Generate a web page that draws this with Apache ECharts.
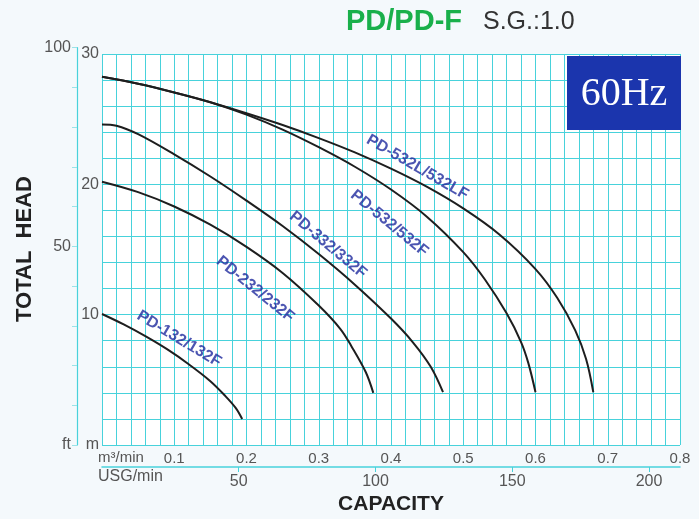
<!DOCTYPE html>
<html>
<head>
<meta charset="utf-8">
<script src="https://cdn.jsdelivr.net/npm/echarts@6/dist/echarts.min.js"></script>
<style>
html,body{margin:0;padding:0;background:#f4f9fc;}
#c{width:699px;height:519px;}
</style>
</head>
<body>
<div id="c"></div>
<script>
// ---- data (capacity m3/min, total head m) ----
const pd132 = [[0,10.05],[0.03,9.25],[0.06,8.35],[0.09,7.35],[0.12,6.2],[0.15,4.9],[0.17,3.8],[0.185,2.85],[0.194,2.0]];
const pd232 = [[0,20.2],[0.05,19.4],[0.1,18.3],[0.15,16.9],[0.2,15.2],[0.25,13.2],[0.3,10.7],[0.33,8.9],[0.345,7.6],[0.365,5.6],[0.3755,4.0]];
const pd332 = [[0,24.6],[0.02,24.5],[0.05,23.85],[0.1,22.3],[0.15,20.6],[0.2,18.75],[0.25,16.8],[0.3,14.65],[0.35,12.3],[0.4,9.7],[0.43,7.9],[0.455,6.0],[0.472,4.05]];
const pd532 = [[0,28.25],[0.05,27.72],[0.1,27.05],[0.15,26.3],[0.2,25.35],[0.25,24.2],[0.3,22.85],[0.35,21.35],[0.4,19.6],[0.45,17.5],[0.5,14.8],[0.53,12.7],[0.56,10.1],[0.58,7.9],[0.59,6.3],[0.6,4.05]];
const pd532L = [[0,28.25],[0.05,27.72],[0.1,27.05],[0.15,26.3],[0.2,25.45],[0.25,24.55],[0.3,23.55],[0.35,22.45],[0.4,21.2],[0.45,19.8],[0.5,18.15],[0.55,16.15],[0.6,13.5],[0.63,11.3],[0.655,8.8],[0.67,6.6],[0.68,4.05]];
const curveNames = ['PD-132/132F','PD-232/232F','PD-332/332F','PD-532/532F','PD-532L/532LF'];
const labelPos = [[0.1066,8.13],[0.212,11.95],[0.313,15.35],[0.3977,17.01],[0.4365,21.3]];
const labelRot = [-31,-39,-40,-39.5,-30];
const m3Ticks = [0.1,0.2,0.3,0.4,0.5,0.6,0.7,0.8];
const usgTicks = [50,100,150,200];
const mTicks = [0,10,20,30];
const ftTicks = [0,50,100];

const GRIDC = '#48d2db';
const chart = echarts.init(document.getElementById('c'), null, {renderer:'canvas'});
const curves = [pd132, pd232, pd332, pd532, pd532L];
const series = curves.map((d,i)=>({
  type:'line', xAxisIndex:0, yAxisIndex:0, data:d, smooth:0.35, showSymbol:false,
  lineStyle:{color:'#1e1e1e', width:2}, silent:true, z:3
}));
series.push({
  type:'scatter', xAxisIndex:0, yAxisIndex:0, symbolSize:1, itemStyle:{color:'transparent'}, z:4,
  data: curveNames.map((n,i)=>({value:labelPos[i], name:n,
    label:{show:true, position:'inside', formatter:n, rotate:labelRot[i],
      color:'#1f2a9e', fontWeight:'bold', fontSize:16, fontFamily:'Liberation Sans'}}))
});

chart.setOption({
  backgroundColor:'#f4f9fc',
  animation:false,
  textStyle:{fontFamily:'Liberation Sans'},
  grid:[
    {left:102, right:19, top:54, bottom:74, show:true, backgroundColor:'#ffffff', borderWidth:0},
    {left:77, width:1, top:47.7, bottom:74, show:false}
  ],
  xAxis:[
    {gridIndex:0, type:'value', min:0, max:0.8, interval:0.02,
     axisLine:{show:false}, axisTick:{show:false},
     splitLine:{show:true, lineStyle:{color:GRIDC, width:1}},
     axisLabel:{customValues:m3Ticks, formatter:v=>v.toFixed(1), color:'#555', fontSize:15, margin:6}},
    {gridIndex:0, type:'value', min:0, max:0.8*264.172, position:'bottom', offset:22,
     axisLine:{show:true, lineStyle:{color:GRIDC, width:1.5}},
     axisTick:{show:true, customValues:usgTicks, length:5, lineStyle:{color:GRIDC}},
     splitLine:{show:false},
     axisLabel:{customValues:usgTicks, color:'#555', fontSize:16, margin:7}},
    {gridIndex:1, type:'value', show:false, min:0, max:1}
  ],
  yAxis:[
    {gridIndex:0, type:'value', min:0, max:30, interval:2,
     axisLine:{show:false}, axisTick:{show:false},
     splitLine:{show:true, lineStyle:{color:GRIDC, width:1}},
     axisLabel:{customValues:mTicks, formatter:v=>v===0?'m':String(v), color:'#555', fontSize:16, margin:3}},
    {gridIndex:1, type:'value', min:0, max:100, interval:10,
     axisLine:{show:true, lineStyle:{color:GRIDC, width:1.2}},
     axisTick:{show:true, length:5, lineStyle:{color:'#9be3e8'}},
     splitLine:{show:false},
     axisLabel:{customValues:ftTicks, formatter:v=>v===0?'ft':String(v), color:'#555', fontSize:16, margin:6}}
  ],
  series:series,
  graphic:[
    {type:'text', left:346, top:7, style:{text:'PD/PD-F', font:'bold 29px "Liberation Sans"', fill:'#19b04b'}},
    {type:'text', left:483, top:10, style:{text:'S.G.:1.0', font:'25px "Liberation Sans"', fill:'#333'}},
    {type:'rect', shape:{x:567, y:56, width:114, height:74}, style:{fill:'#1b35ad'}, z:10},
    {type:'text', x:624, y:94, z:11, style:{text:'60Hz', font:'40px "Liberation Serif"', fill:'#ffffff', align:'center', verticalAlign:'middle'}},
    {type:'text', x:25, y:249, rotation:Math.PI/2, style:{text:'TOTAL  HEAD', font:'bold 22px "Liberation Sans"', fill:'#222', align:'center', verticalAlign:'middle'}},
    {type:'text', x:391, y:504, style:{text:'CAPACITY', font:'bold 21px "Liberation Sans"', fill:'#222', align:'center', verticalAlign:'middle'}},
    {type:'text', x:98, y:458, style:{text:'m³/min', font:'15px "Liberation Sans"', fill:'#555', verticalAlign:'middle'}},
    {type:'text', x:98, y:477, style:{text:'USG/min', font:'16px "Liberation Sans"', fill:'#555', verticalAlign:'middle'}}
  ]
});
</script>
</body>
</html>
